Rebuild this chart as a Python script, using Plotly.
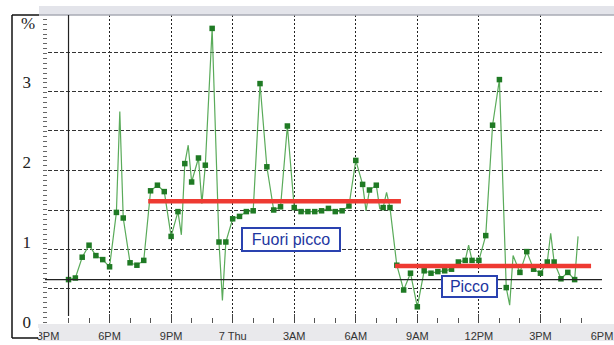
import plotly.graph_objects as go

# ---------------- data ----------------
times = [
    "2011-04-06 16:00", "2011-04-06 16:20", "2011-04-06 16:40", "2011-04-06 17:00",
    "2011-04-06 17:20", "2011-04-06 17:40", "2011-04-06 18:00", "2011-04-06 18:20",
    "2011-04-06 18:30", "2011-04-06 18:40", "2011-04-06 19:00", "2011-04-06 19:20",
    "2011-04-06 19:40", "2011-04-06 20:00", "2011-04-06 20:20", "2011-04-06 20:40",
    "2011-04-06 21:00", "2011-04-06 21:20", "2011-04-06 21:30", "2011-04-06 21:40",
    "2011-04-06 21:50", "2011-04-06 22:00", "2011-04-06 22:20", "2011-04-06 22:30",
    "2011-04-06 22:40", "2011-04-06 23:00", "2011-04-06 23:20", "2011-04-06 23:30",
    "2011-04-06 23:40", "2011-04-07 00:00", "2011-04-07 00:20", "2011-04-07 00:40",
    "2011-04-07 01:00", "2011-04-07 01:20", "2011-04-07 01:40", "2011-04-07 02:00",
    "2011-04-07 02:20", "2011-04-07 02:40", "2011-04-07 03:00", "2011-04-07 03:20",
    "2011-04-07 03:40", "2011-04-07 04:00", "2011-04-07 04:20", "2011-04-07 04:40",
    "2011-04-07 05:00", "2011-04-07 05:20", "2011-04-07 05:40", "2011-04-07 06:00",
    "2011-04-07 06:20", "2011-04-07 06:30", "2011-04-07 06:40", "2011-04-07 07:00",
    "2011-04-07 07:10", "2011-04-07 07:20", "2011-04-07 07:30", "2011-04-07 07:40",
    "2011-04-07 08:00", "2011-04-07 08:20", "2011-04-07 08:40", "2011-04-07 09:00",
    "2011-04-07 09:20", "2011-04-07 09:40", "2011-04-07 10:00", "2011-04-07 10:20",
    "2011-04-07 10:40", "2011-04-07 11:00", "2011-04-07 11:20", "2011-04-07 11:30",
    "2011-04-07 11:40", "2011-04-07 12:00", "2011-04-07 12:20", "2011-04-07 12:40",
    "2011-04-07 13:00", "2011-04-07 13:20", "2011-04-07 13:30", "2011-04-07 13:40",
    "2011-04-07 14:00", "2011-04-07 14:20", "2011-04-07 14:40", "2011-04-07 15:00",
    "2011-04-07 15:20", "2011-04-07 15:30", "2011-04-07 15:40", "2011-04-07 16:00",
    "2011-04-07 16:20", "2011-04-07 16:40", "2011-04-07 16:50",
]
values = [
    0.53, 0.55, 0.81, 0.96,
    0.83, 0.78, 0.69, 1.37,
    2.63, 1.30, 0.74, 0.71,
    0.77, 1.64, 1.71, 1.63,
    1.07, 1.38, 1.09, 1.98,
    2.21, 1.75, 2.05, 1.48,
    1.96, 3.67, 1.00, 0.27,
    1.00, 1.29, 1.32, 1.38,
    1.39, 2.98, 1.94, 1.40,
    1.44, 2.45, 1.43, 1.38,
    1.38, 1.38, 1.39, 1.42,
    1.38, 1.39, 1.45, 2.02,
    1.72, 1.39, 1.65, 1.71,
    1.42, 1.43, 1.62, 1.43,
    0.71, 0.40, 0.61, 0.19,
    0.64, 0.61, 0.63, 0.64,
    0.66, 0.75, 0.77, 0.96,
    0.77, 0.77, 1.08, 2.46,
    3.03, 0.43, 0.21, 0.83,
    0.62, 0.88, 0.66, 0.61,
    0.75, 1.11, 0.75, 0.54,
    0.62, 0.53, 1.07,
]
marked = [
    1, 1, 1, 1,
    1, 1, 1, 1,
    0, 1, 1, 1,
    1, 1, 1, 1,
    1, 1, 0, 1,
    0, 1, 1, 0,
    1, 1, 1, 0,
    1, 1, 1, 1,
    1, 1, 1, 1,
    1, 1, 1, 1,
    1, 1, 1, 1,
    1, 1, 1, 1,
    1, 0, 1, 1,
    0, 1, 0, 1,
    1, 1, 1, 1,
    1, 1, 1, 1,
    1, 1, 1, 0,
    1, 1, 1, 1,
    1, 1, 0, 0,
    1, 1, 1, 1,
    1, 0, 1, 1,
    1, 1, 0,
]

offpeak_times = ["2011-04-06 19:53", "2011-04-07 08:12"]
offpeak_level = [1.51, 1.51]
peak_times = ["2011-04-07 07:55", "2011-04-07 17:28"]
peak_level = [0.70, 0.70]

x_tickvals = [
    "2011-04-06 15:00", "2011-04-06 18:00", "2011-04-06 21:00", "2011-04-07 00:00",
    "2011-04-07 03:00", "2011-04-07 06:00", "2011-04-07 09:00", "2011-04-07 12:00",
    "2011-04-07 15:00", "2011-04-07 18:00",
]
x_ticktext = ["3PM", "6PM", "9PM", "7 Thu", "3AM", "6AM", "9AM", "12PM", "3PM", "6PM"]
y_labels = [0, 1, 2, 3]
y_grid = [0.42, 0.91, 1.40, 1.90, 2.39, 2.88, 3.37]

# ---------------- figure ----------------
W, H = 614, 345
L, R, T, B = 48, 12, 15, 22
pw, ph = W - L - R, H - T - B


def px(x):
    return (x - L) / pw


def py(y):
    return (H - B - y) / ph


mt = [t for t, m in zip(times, marked) if m]
mv = [v for v, m in zip(values, marked) if m]

fig = go.Figure()
fig.add_trace(go.Scatter(x=times, y=values, mode="lines",
                         line=dict(color="#5aab5a", width=1.2),
                         hoverinfo="skip", showlegend=False))
fig.add_trace(go.Scatter(x=mt, y=mv, mode="markers",
                         marker=dict(symbol="square", size=5.5, color="#1f7a24",
                                     line=dict(width=0)),
                         showlegend=False))
fig.add_trace(go.Scatter(x=offpeak_times, y=offpeak_level, mode="lines",
                         line=dict(color="#ee3a32", width=4.5), yaxis="y2",
                         showlegend=False))
fig.add_trace(go.Scatter(x=peak_times, y=peak_level, mode="lines",
                         line=dict(color="#ee3a32", width=4.5), yaxis="y2",
                         showlegend=False))

yrange = [-0.0125, 3.8375]

fig.update_layout(
    width=W, height=H, autosize=False,
    margin=dict(l=L, r=R, t=T, b=B, pad=0, autoexpand=False),
    paper_bgcolor="white", plot_bgcolor="white",
    showlegend=False,
    xaxis=dict(
        type="date", range=["2011-04-06 15:00", "2011-04-07 18:00"],
        tickmode="array", tickvals=x_tickvals, ticktext=x_ticktext,
        showgrid=True, gridcolor="#222222", griddash="2px,2px", gridwidth=1,
        ticks="inside", ticklen=9, tickcolor="#444", tickwidth=1,
        minor=dict(dtick=3600000, tick0="2011-04-06 15:00", ticks="inside",
                   ticklen=5, tickcolor="#555", showgrid=False),
        tickfont=dict(family="Arial, Liberation Sans", size=11, color="#333"),
        ticklabelstandoff=5, automargin=False,
        showline=False, zeroline=False, fixedrange=True,
    ),
    yaxis=dict(
        range=yrange, tickmode="array", tickvals=y_grid,
        showticklabels=False, ticks="", automargin=False,
        showgrid=True, gridcolor="#333333", griddash="4px,2px", gridwidth=1,
        minor=dict(tickmode="linear", tick0=0, dtick=0.061, ticks="outside",
                   ticklen=4, tickcolor="#666", showgrid=False),
        zeroline=False, showline=False, fixedrange=True,
    ),
    yaxis2=dict(
        range=yrange, overlaying="y", side="left", automargin=False,
        tickmode="array", tickvals=y_labels, ticktext=[str(v) for v in y_labels],
        showgrid=False, ticks="", ticklabelstandoff=16,
        tickfont=dict(family="Liberation Serif, DejaVu Serif", size=17, color="#222"),
        zeroline=False, showline=False, fixedrange=True,
    ),
)

shapes = [
    # top grey band
    dict(type="rect", xref="paper", yref="paper", x0=px(39), x1=px(614), y0=1, y1=py(6),
         fillcolor="#e3e4ea", line=dict(width=0), layer="below"),
    dict(type="line", xref="paper", yref="paper", x0=px(39), x1=px(614), y0=1, y1=1,
         line=dict(color="#a9abb4", width=1.5)),
    # bottom axis strip
    dict(type="rect", xref="paper", yref="paper", x0=px(38), x1=px(614), y0=py(341), y1=py(324),
         fillcolor="#e9e9ec", line=dict(width=0), layer="below"),
    # white left panel covering the clipped first tick label
    dict(type="rect", xref="paper", yref="paper", x0=px(13), x1=px(39), y0=py(337), y1=py(328),
         fillcolor="white", line=dict(width=0), layer="above"),
    # left frame
    dict(type="line", xref="paper", yref="paper", x0=px(12), x1=px(12), y0=py(15), y1=py(338),
         line=dict(color="#111", width=1.5)),
    dict(type="line", xref="paper", yref="paper", x0=px(12), x1=px(39), y0=py(15), y1=py(15),
         line=dict(color="#111", width=1.5)),
    dict(type="line", xref="paper", yref="paper", x0=px(12), x1=px(38), y0=py(338), y1=py(338),
         line=dict(color="#111", width=1.5)),
    # cursor lines through the first reading
    dict(type="line", xref="x", yref="paper", x0=times[0], x1=times[0], y0=py(316), y1=1,
         line=dict(color="#222", width=1.2)),
    dict(type="line", xref="paper", yref="y", x0=px(45), x1=1, y0=values[0], y1=values[0],
         line=dict(color="#222", width=1.2)),
]
fig.update_layout(shapes=shapes)

fig.add_annotation(text="%", xref="paper", yref="paper", x=px(28), y=py(23),
                   xanchor="center", yanchor="middle",
                   showarrow=False, font=dict(family="Liberation Serif, DejaVu Serif",
                                              size=17, color="#222"))
fig.add_annotation(text="Fuori picco", x="2011-04-07 02:50", y=1.03, showarrow=False,
                   xanchor="center", yanchor="middle",
                   font=dict(family="Arial, Liberation Sans", size=16, color="#1d36a0"),
                   bgcolor="white", bordercolor="#2a42b0", borderwidth=2, borderpad=1,
                   width=94, height=19)
fig.add_annotation(text="Picco", x="2011-04-07 11:33", y=0.44, showarrow=False,
                   xanchor="center", yanchor="middle",
                   font=dict(family="Arial, Liberation Sans", size=16, color="#1d36a0"),
                   bgcolor="white", bordercolor="#2a42b0", borderwidth=2, borderpad=1,
                   width=51, height=17)

fig.write_html(
    "out.html",
    config={"responsive": False, "displayModeBar": False},
    post_script="document.body.style.margin='0';document.body.style.padding='0';"
                "document.body.style.overflow='hidden';"
                "document.documentElement.style.overflow='hidden';",
)
